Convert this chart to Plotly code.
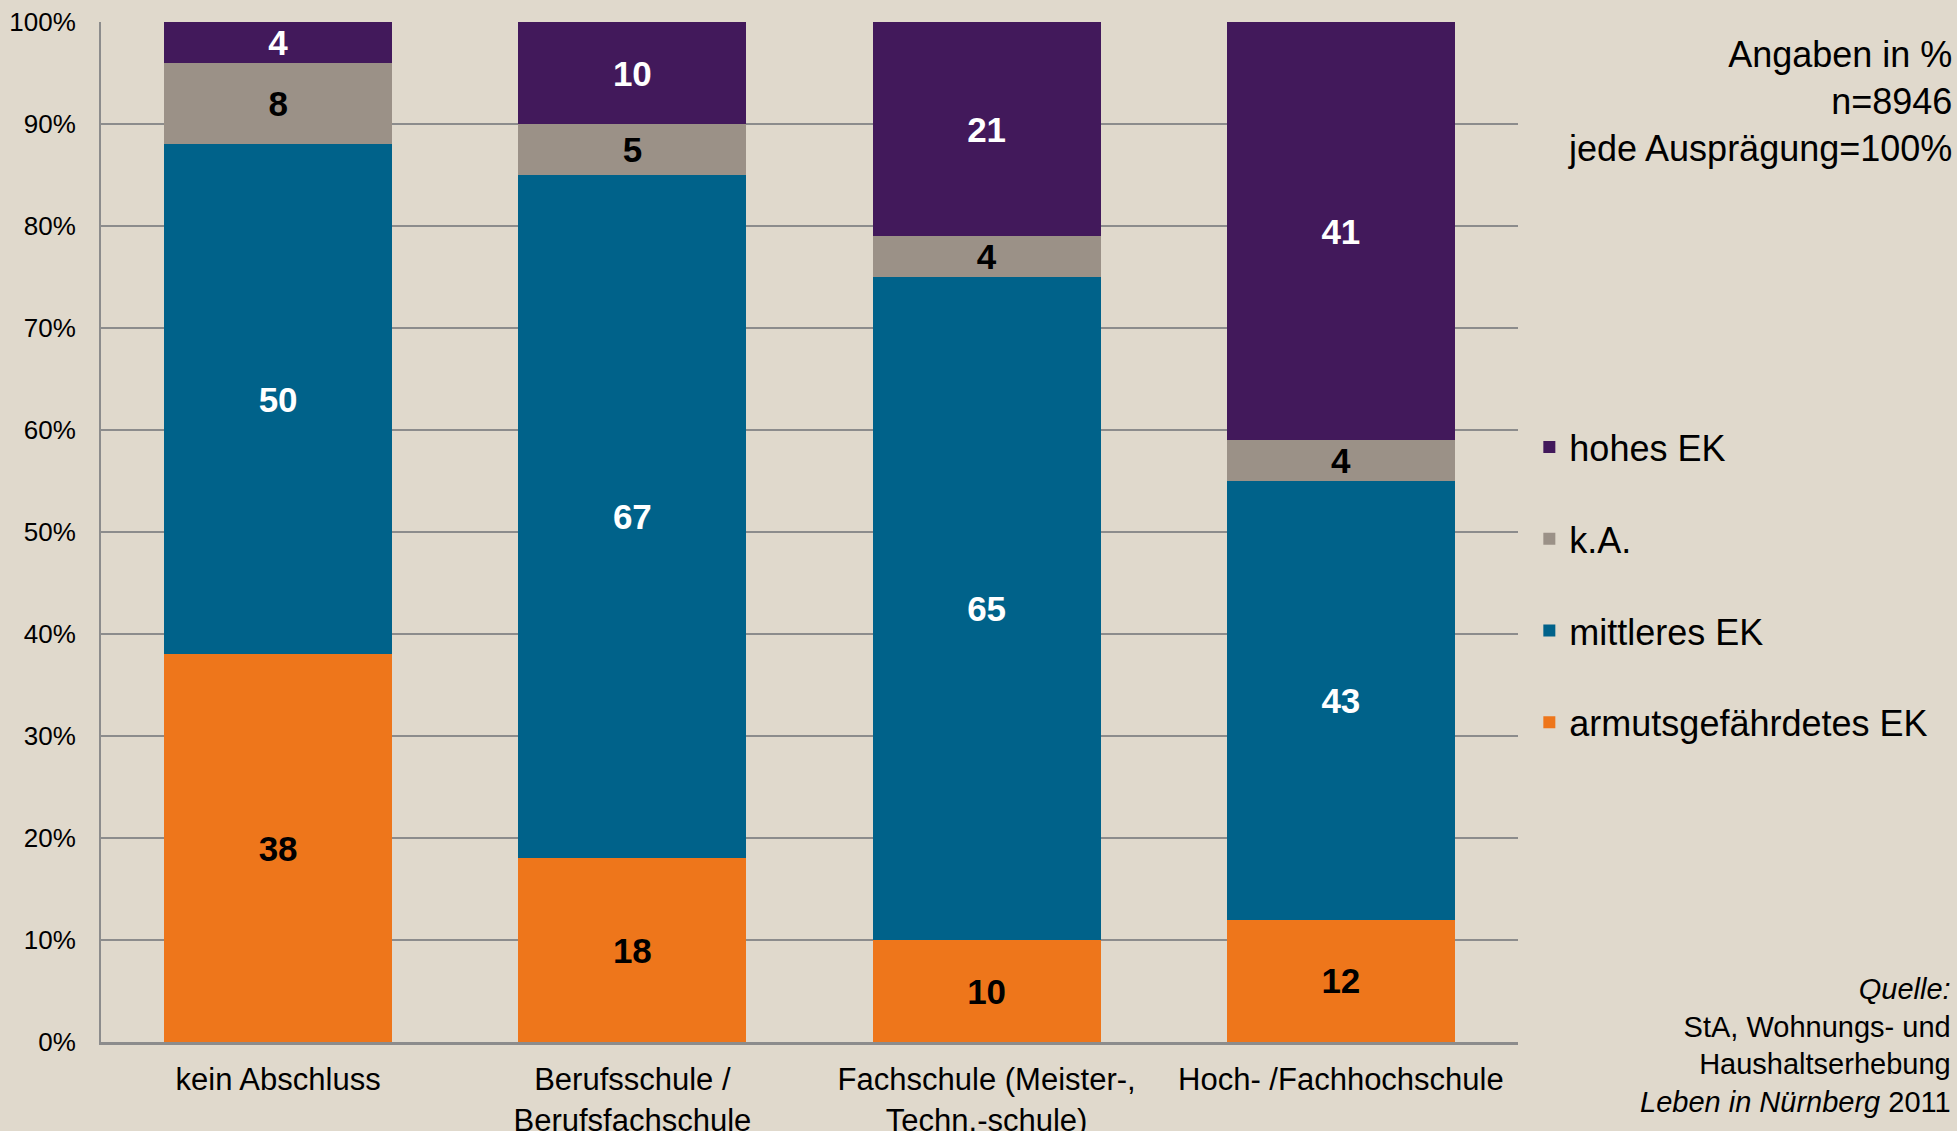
import plotly.graph_objects as go

categories = ["kein Abschluss", "Berufsschule /<br>Berufsfachschule",
              "Fachschule (Meister-,<br>Techn.-schule)", "Hoch- /Fachhochschule"]
armut = [38, 18, 10, 12]
mittel = [50, 67, 65, 43]
ka = [8, 5, 4, 4]
hoch = [4, 10, 21, 41]

series = [
    ("armutsgefährdetes EK", armut, "#ee761b", "black"),
    ("mittleres EK", mittel, "#00628a", "white"),
    ("k.A.", ka, "#9b9187", "black"),
    ("hohes EK", hoch, "#42195b", "white"),
]

FONT = "Liberation Sans, Arial, sans-serif"
BG = "#e0d9cc"

fig = go.Figure()
for i, (name, vals, col, tcol) in enumerate(series):
    fig.add_trace(go.Bar(
        x=categories, y=vals, name=name, legendgroup=f"g{i}", legendrank=10 - i,
        marker=dict(color=col, line=dict(width=0)),
        text=vals, texttemplate="<b>%{text}</b>", textposition="inside",
        insidetextanchor="middle", textangle=0,
        insidetextfont=dict(family=FONT, size=35, color=tcol),
        hoverinfo="skip",
    ))

fig.update_layout(
    barmode="stack", bargap=0.356,
    width=1957, height=1131,
    paper_bgcolor=BG, plot_bgcolor=BG,
    margin=dict(l=101, r=439, t=22, b=89, pad=0, autoexpand=False),
    font=dict(family=FONT, color="black"),
    uniformtext=dict(minsize=35, mode="show"),
    showlegend=True,
    legend=dict(
        x=1.008, xanchor="left", y=0.448, yanchor="middle",
        traceorder="grouped", tracegroupgap=42,
        font=dict(family=FONT, size=36, color="black"),
        bgcolor="rgba(0,0,0,0)", itemwidth=30,
    ),
    xaxis=dict(
        showline=True, linecolor="#8c8c8c", linewidth=3,
        showgrid=False, ticks="", ticklabelstandoff=8, automargin=False,
        tickfont=dict(family=FONT, size=31, color="black"),
        fixedrange=True,
    ),
    yaxis=dict(
        range=[0, 100], dtick=10, ticksuffix="%",
        showline=True, linecolor="#8c8c8c", linewidth=2,
        showgrid=True, gridcolor="#8c8c8c", gridwidth=1.5,
        zeroline=False, ticks="", ticklabelstandoff=18, automargin=False,
        tickfont=dict(family=FONT, size=26, color="black"),
        fixedrange=True,
    ),
    annotations=[
        dict(xref="paper", yref="paper", x=1.3077, y=0.990, xanchor="right", yanchor="top",
             align="right", showarrow=False,
             text="Angaben in %<br>n=8946<br>jede Ausprägung=100%",
             font=dict(family=FONT, size=36, color="black")),
        dict(xref="paper", yref="paper", x=1.307, y=-0.076, xanchor="right", yanchor="bottom",
             align="right", showarrow=False,
             text="<i>Quelle:</i><br>StA, Wohnungs- und<br>Haushaltserhebung<br><i>Leben in Nürnberg</i> 2011",
             font=dict(family=FONT, size=29, color="black")),
    ],
)

fig.write_html("out.html", config={"displayModeBar": False},
               post_script="document.body.style.margin='0';document.body.style.overflow='hidden';")
